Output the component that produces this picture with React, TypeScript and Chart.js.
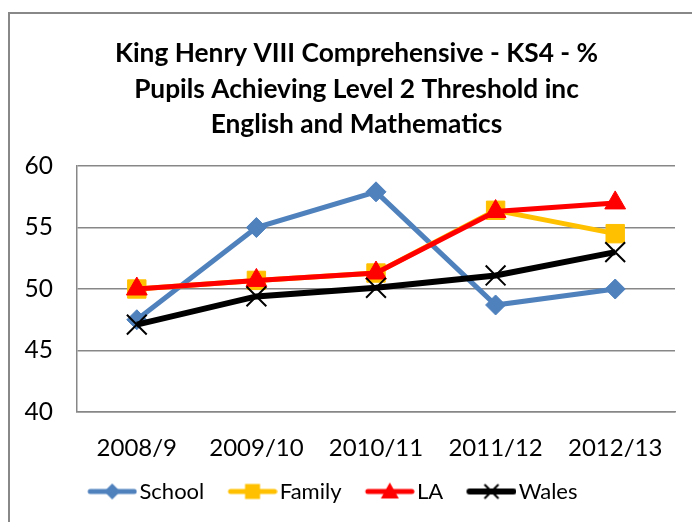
import React, { useEffect, useRef } from "react";
import { Chart, registerables } from "chart.js";

Chart.register(...registerables);

const titleLines = [
  "King Henry VIII Comprehensive - KS4 - %",
  "Pupils Achieving Level 2 Threshold inc",
  "English and Mathematics",
];
const categories = ["2008/9", "2009/10", "2010/11", "2011/12", "2012/13"];
const schoolValues = [47.5, 55.0, 57.9, 48.7, 50.0];
const familyValues = [50.0, 50.7, 51.3, 56.4, 54.5];
const laValues = [50.0, 50.7, 51.3, 56.3, 57.0];
const walesValues = [47.1, 49.4, 50.1, 51.1, 53.0];
const yMin = 40;
const yMax = 60;
const yStep = 5;

const FONT = "Lato, 'Open Sans', sans-serif";
const GRID = "#878787";

// legend icon: 61px wide canvas, visible line+marker occupies x 11..61
function makeLegendIcon(color: string, style: string, lineWidth: number): HTMLCanvasElement {
  const c = document.createElement("canvas");
  c.width = 61;
  c.height = 22;
  const ctx = c.getContext("2d")!;
  const cy = 11;
  const x0 = 11;
  ctx.strokeStyle = color;
  ctx.lineCap = "round";
  ctx.lineWidth = lineWidth;
  ctx.beginPath();
  ctx.moveTo(x0 + 3, cy);
  ctx.lineTo(x0 + 47, cy);
  ctx.stroke();
  ctx.fillStyle = color;
  const cx = x0 + 25;
  ctx.beginPath();
  if (style === "diamond") {
    ctx.moveTo(cx - 8, cy);
    ctx.lineTo(cx, cy - 8);
    ctx.lineTo(cx + 8, cy);
    ctx.lineTo(cx, cy + 8);
    ctx.closePath();
    ctx.fill();
  } else if (style === "square") {
    ctx.rect(cx - 7.5, cy - 7.5, 15, 15);
    ctx.fill();
  } else if (style === "triangle") {
    ctx.moveTo(cx, cy - 9);
    ctx.lineTo(cx + 9, cy + 7);
    ctx.lineTo(cx - 9, cy + 7);
    ctx.closePath();
    ctx.fill();
  } else if (style === "cross") {
    ctx.lineWidth = 2;
    ctx.lineCap = "butt";
    ctx.moveTo(cx - 7, cy - 7);
    ctx.lineTo(cx + 7, cy + 7);
    ctx.moveTo(cx + 7, cy - 7);
    ctx.lineTo(cx - 7, cy + 7);
    ctx.stroke();
  }
  return c;
}

const framePlugin = {
  id: "frame",
  afterLayout(chart: any) {
    // centre the title within the outer frame and place the legend row like the original
    if (chart.titleBlock) {
      chart.titleBlock.left = 38;
    }
    if (chart.legend) {
      chart.legend.left = 64;
      chart.legend.top = 459.5;
    }
  },
  beforeDraw(chart: any) {
    const ctx = chart.ctx;
    ctx.save();
    ctx.fillStyle = "#ffffff";
    ctx.fillRect(0, 0, chart.width, chart.height);
    ctx.strokeStyle = "#888888";
    ctx.lineWidth = 2;
    ctx.strokeRect(9, 13, 720, 600);
    ctx.restore();
  },
};

export default function App() {
  const ref = useRef<HTMLCanvasElement | null>(null);

  useEffect(() => {
    if (!ref.current) return;
    const icons = [
      makeLegendIcon("#4F81BD", "diamond", 5),
      makeLegendIcon("#FFC000", "square", 5),
      makeLegendIcon("#FF0000", "triangle", 5),
      makeLegendIcon("#000000", "cross", 6),
    ];
    const chart = new Chart(ref.current, {
      type: "line",
      data: {
        labels: categories,
        datasets: [
          {
            label: "School",
            data: schoolValues,
            borderColor: "#4F81BD",
            backgroundColor: "#4F81BD",
            borderWidth: 5,
            pointStyle: "rectRot",
            pointRadius: 10,
            pointBorderWidth: 1,
            pointBorderColor: "#4F81BD",
            pointBackgroundColor: "#4F81BD",
            order: 3,
          },
          {
            label: "Family",
            data: familyValues,
            borderColor: "#FFC000",
            backgroundColor: "#FFC000",
            borderWidth: 5,
            pointStyle: "rect",
            pointRadius: 13,
            pointBorderWidth: 1,
            pointBorderColor: "#FFC000",
            pointBackgroundColor: "#FFC000",
            order: 2,
          },
          {
            label: "LA",
            data: laValues,
            borderColor: "#FF0000",
            backgroundColor: "#FF0000",
            borderWidth: 5,
            pointStyle: "triangle",
            pointRadius: 12,
            pointBorderWidth: 1,
            pointBorderColor: "#FF0000",
            pointBackgroundColor: "#FF0000",
            order: 1,
          },
          {
            label: "Wales",
            data: walesValues,
            borderColor: "#000000",
            backgroundColor: "#000000",
            borderWidth: 6,
            pointStyle: "crossRot",
            pointRadius: 14,
            pointBorderWidth: 2,
            pointBorderColor: "#000000",
            pointBackgroundColor: "#000000",
            order: 0,
          },
        ],
      },
      options: {
        animation: false,
        responsive: false,
        maintainAspectRatio: false,
        layout: { padding: { left: 0, right: 17, top: 0, bottom: 1 } },
        elements: { line: { tension: 0 } },
        plugins: {
          title: {
            display: true,
            text: titleLines,
            color: "#000000",
            font: { family: FONT, size: 26.3, weight: "bold", lineHeight: 1.35 },
            padding: { top: 36, bottom: 23.5 },
          },
          legend: {
            display: true,
            position: "bottom",
            align: "start",
            labels: {
              color: "#000000",
              font: { family: FONT, size: 22 },
              usePointStyle: true,
              pointStyleWidth: 43.5,
              padding: 21,
              generateLabels(chart: any) {
                const items = Chart.defaults.plugins.legend.labels.generateLabels(chart);
                items.forEach((it: any) => {
                  it.pointStyle = icons[it.datasetIndex];
                });
                items.sort((a: any, b: any) => a.datasetIndex - b.datasetIndex);
                return items;
              },
            },
          },
          tooltip: { enabled: false },
        },
        scales: {
          x: {
            offset: true,
            grid: { display: false, drawTicks: false },
            border: { display: true, color: GRID, width: 1.5 },
            ticks: {
              color: "#000000",
              font: { family: FONT, size: 24 },
              padding: 21.6,
              maxRotation: 0,
            },
            afterFit(scale: any) {
              scale.height = 56;
            },
          },
          y: {
            min: yMin,
            max: yMax,
            grid: { color: GRID, lineWidth: 1.5, drawTicks: false },
            border: { display: true, color: GRID, width: 1.5 },
            ticks: {
              stepSize: yStep,
              color: "#000000",
              font: { family: FONT, size: 24.5 },
              padding: 24,
            },
            afterFit(scale: any) {
              scale.width = 77;
            },
          },
        },
      },
      plugins: [framePlugin],
    });
    return () => chart.destroy();
  }, []);

  return (
    <div style={{ position: "fixed", left: 0, top: 0, width: 692, height: 522, background: "#fff" }}>
      <canvas ref={ref} width={692} height={522} style={{ width: 692, height: 522, display: "block" }} />
    </div>
  );
}
